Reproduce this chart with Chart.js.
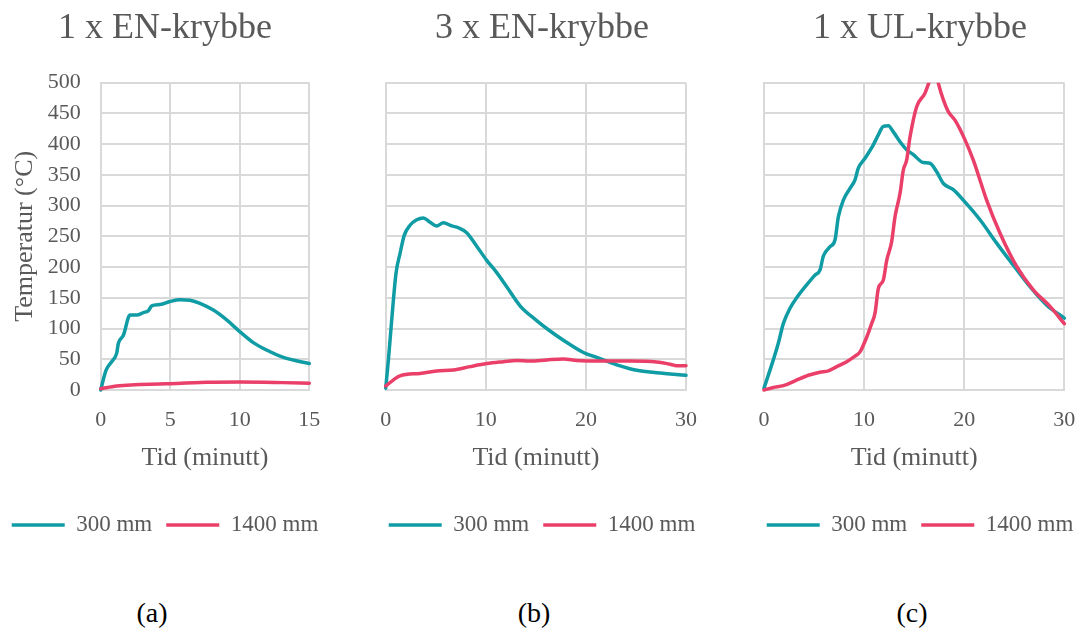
<!DOCTYPE html>
<html>
<head>
<meta charset="utf-8">
<script src="https://cdn.jsdelivr.net/npm/chart.js@4.4.1/dist/chart.umd.min.js"></script>
<style>
    body { margin: 0; background: #ffffff; }
    #wrap { position: relative; width: 1080px; height: 628px; overflow: hidden; background: #ffffff; }
    canvas { position: absolute; top: 0; }
    .sub { position: absolute; top: 597px; width: 60px; text-align: center; font: 28px 'Liberation Serif', serif; color: #000000; }
</style>
</head>
<body>
<div id="wrap">
    <canvas id="chartA" width="370" height="560" style="left:-20px"></canvas>
    <canvas id="chartB" width="370" height="560" style="left:357px"></canvas>
    <canvas id="chartC" width="370" height="560" style="left:735px"></canvas>
    <div class="sub" style="left:122px">(a)</div>
    <div class="sub" style="left:504px">(b)</div>
    <div class="sub" style="left:882px">(c)</div>
</div>
<script>
// serie-navn og paneltitler
const seriesLabels = ['300 mm', '1400 mm'];
const panelTitles = ['1 x EN-krybbe', '3 x EN-krybbe', '1 x UL-krybbe'];

// (a) 1 x EN-krybbe
const aTime300 = [0, 0.38, 0.79, 1.15, 1.27, 1.63, 2.11, 2.59, 3.07, 3.43, 3.67, 4.27, 4.98, 5.7, 6.42, 7.14, 8.1, 9.06, 10.0, 10.98, 11.93, 13.13, 15];
const aTemp300 = [0, 32, 46, 60, 76, 89, 122, 122, 126, 129, 137, 139, 144, 147, 146, 141, 130, 114, 95, 77, 65, 53, 43];
const aTime1400 = [0, 1.15, 4.7, 7.6, 10, 13.1, 15];
const aTemp1400 = [2, 6.5, 10, 12.5, 13, 12, 11];

// (b) 3 x EN-krybbe
const bTime300 = [0, 0.27, 0.6, 1.03, 1.43, 1.86, 2.43, 3.1, 3.76, 4.43, 5.09, 5.76, 6.59, 7.26, 8.09, 9.09, 10.09, 11.09, 12.09, 13.42, 15.08, 16.42, 17.75, 19.75, 21.08, 23.08, 25.08, 27.07, 30];
const bTemp300 = [3, 49, 114, 190, 222, 252, 268, 277, 280, 273, 267, 272, 267, 264, 256, 234, 211, 191, 168, 137, 113, 96, 81, 61, 53, 41, 32, 28, 24];
const bTime1400 = [0, 1.43, 3.43, 5.09, 6.76, 8.42, 10.09, 11.75, 13.09, 14.42, 16.09, 17.75, 19.08, 21.74, 24.4, 27.07, 28.4, 29.07, 30];
const bTemp1400 = [6.5, 23, 27, 31, 32.5, 38, 43, 46, 48, 47, 49, 50.5, 48, 47, 47, 45.5, 42, 39.5, 39.5];

// (c) 1 x UL-krybbe
const cTime300 = [0, 0.93, 1.43, 1.93, 2.6, 3.26, 4.26, 5.09, 5.59, 5.93, 6.59, 7.09, 7.43, 7.93, 8.59, 9.09, 9.42, 10.09, 10.92, 11.42, 11.92, 12.42, 12.92, 13.59, 14.25, 14.92, 15.92, 16.58, 17.25, 17.92, 18.91, 19.91, 21.58, 23.24, 24.91, 26.57, 28.24, 30];
const cTemp300 = [3, 49, 76, 108, 133, 150, 171, 187, 195, 218, 233, 244, 282, 309, 328, 342, 361, 377, 399, 415, 429, 430, 420, 404, 391, 383, 370, 369, 355, 336, 326, 309, 277, 239, 203, 168, 138, 117];
const cTime1400 = [0, 0.93, 1.93, 3.1, 4.43, 5.59, 6.43, 7.26, 8.26, 9.09, 9.59, 10.26, 10.75, 11.09, 11.42, 11.92, 12.26, 12.75, 13.09, 13.59, 13.92, 14.25, 14.59, 15.25, 16.08, 16.58, 17.08, 17.42, 17.92, 18.41, 19.08, 20.08, 20.91, 22.24, 23.58, 25.24, 26.9, 28.57, 30];
const cTemp1400 = [0, 4, 7, 15, 24, 29, 31, 38, 46, 55, 62, 86, 108, 125, 165, 179, 211, 241, 282, 320, 358, 374, 412, 461, 483, 505, 525, 499, 472, 453, 439, 407, 374, 309, 255, 201, 163, 136, 108];

// akser
const yTicks = { min: 0, max: 500, step: 50 };
const xRanges = [{ max: 15, step: 5 }, { max: 30, step: 10 }, { max: 30, step: 10 }];

const colors = {
    teal: '#0f9ca4',
    red: '#ea3f69',
    text: '#595959',
    grid: '#d9d9d9'
};

Chart.defaults.font.family = "'Liberation Serif', 'Times New Roman', serif";
Chart.defaults.color = colors.text;

function toPoints(xs, ys) {
    return xs.map((x, i) => ({ x: x, y: ys[i] }));
}

function buildPanel(canvasId, index, time300, temp300, time1400, temp1400, showY, yWidth, rightGap) {
    const ctx = document.getElementById(canvasId);
    const range = xRanges[index];

    const lineStyle = {
        borderWidth: 3.5,
        pointRadius: 0,
        fill: false,
        cubicInterpolationMode: 'monotone',
        borderCapStyle: 'round',
        borderJoinStyle: 'round',
        clip: { left: 2, top: 0, right: 2, bottom: 4 }
    };

    return new Chart(ctx, {
        type: 'line',
        data: {
            datasets: [
                Object.assign({
                    label: seriesLabels[0],
                    data: toPoints(time300, temp300),
                    borderColor: colors.teal,
                    backgroundColor: colors.teal,
                    order: 1
                }, lineStyle),
                Object.assign({
                    label: seriesLabels[1],
                    data: toPoints(time1400, temp1400),
                    borderColor: colors.red,
                    backgroundColor: colors.red,
                    order: 0
                }, lineStyle)
            ]
        },
        options: {
            responsive: false,
            animation: false,
            devicePixelRatio: 1,
            layout: { padding: { top: 0, left: 0, right: 0, bottom: 13.5 } },
            plugins: {
                title: {
                    display: true,
                    text: panelTitles[index],
                    color: colors.text,
                    font: { size: 36, weight: 'normal' },
                    padding: { top: 7, bottom: 32.5 }
                },
                legend: {
                    position: 'bottom',
                    labels: {
                        usePointStyle: true,
                        pointStyle: 'line',
                        pointStyleWidth: 53,
                        padding: 14,
                        color: colors.text,
                        font: { size: 23 },
                        sort: (a, b) => a.datasetIndex - b.datasetIndex
                    }
                },
                tooltip: { enabled: false }
            },
            scales: {
                x: {
                    type: 'linear',
                    min: 0,
                    max: range.max,
                    ticks: { stepSize: range.step, padding: 17, font: { size: 22 }, color: colors.text, autoSkip: false },
                    grid: { color: colors.grid, lineWidth: 2, drawTicks: false },
                    border: { display: true, color: colors.grid, width: 2 },
                    title: {
                        display: true,
                        text: 'Tid (minutt)',
                        color: colors.text,
                        font: { size: 26 },
                        padding: { top: 0, bottom: 25.5 }
                    },
                    afterFit: scale => { scale.height = 109.5; }
                },
                y: {
                    min: yTicks.min,
                    max: yTicks.max,
                    ticks: { stepSize: yTicks.step, display: showY, padding: 20, font: { size: 22 }, color: colors.text, autoSkip: false },
                    grid: { color: colors.grid, lineWidth: 2, drawTicks: false },
                    border: { display: true, color: colors.grid, width: 2 },
                    title: {
                        display: showY,
                        text: 'Temperatur (°C)',
                        color: colors.text,
                        font: { size: 26 },
                        padding: { top: 29.4, bottom: 0 }
                    },
                    afterFit: scale => { scale.width = yWidth; }
                },
                // tom akse til høyre, holder plass uten å krympe legenden
                gap: {
                    axis: 'y',
                    position: 'right',
                    display: true,
                    grid: { display: false },
                    ticks: { display: false },
                    border: { display: false },
                    afterFit: scale => { scale.width = rightGap; }
                }
            }
        }
    });
}

buildPanel('chartA', 0, aTime300, aTemp300, aTime1400, aTemp1400, true, 120.7, 40.7);
buildPanel('chartB', 1, bTime300, bTemp300, bTime1400, bTemp1400, false, 28.7, 41);
buildPanel('chartC', 2, cTime300, cTemp300, cTime1400, cTemp1400, false, 29, 40.7);
</script>
</body>
</html>
